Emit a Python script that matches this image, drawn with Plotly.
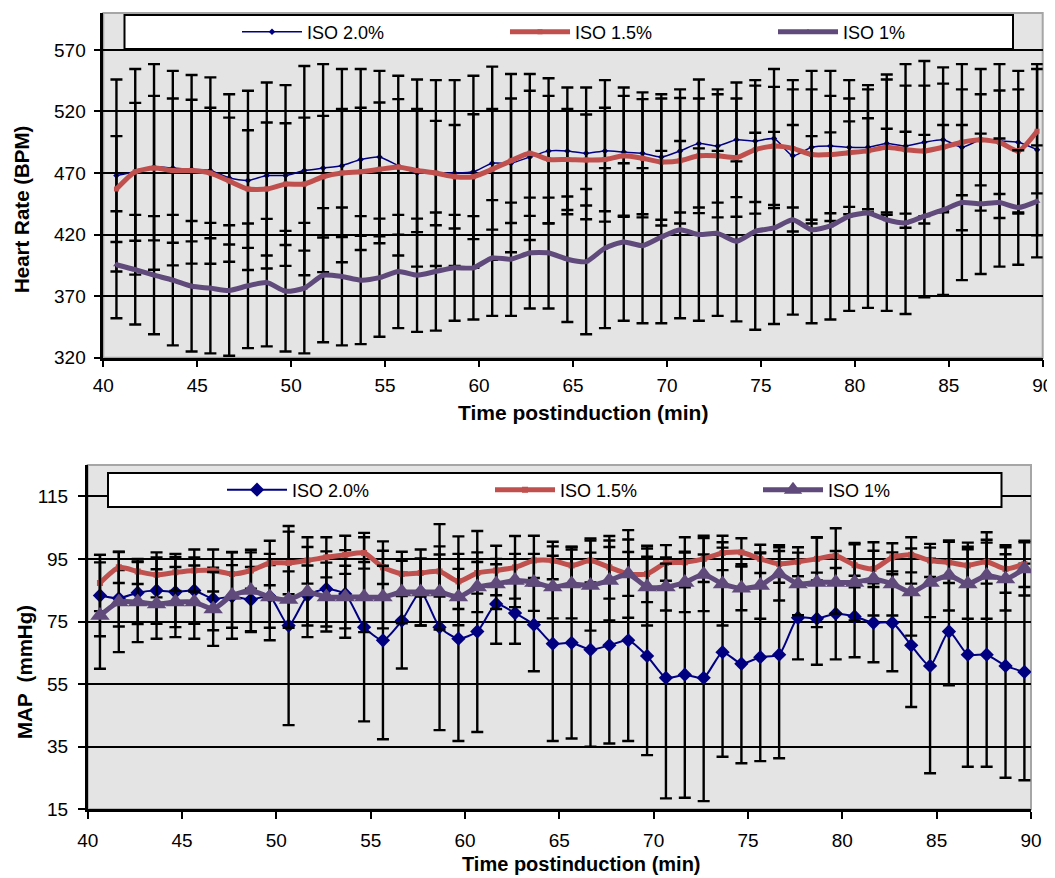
import plotly.graph_objects as go

# ---------------- data ----------------
time_hr = [40.7, 41.7, 42.7, 43.7, 44.7, 45.7, 46.7, 47.7, 48.7, 49.7,
           50.7, 51.7, 52.7, 53.7, 54.7, 55.7, 56.7, 57.7, 58.7, 59.7,
           60.7, 61.7, 62.7, 63.7, 64.7, 65.7, 66.7, 67.7, 68.7, 69.7,
           70.7, 71.7, 72.7, 73.7, 74.7, 75.7, 76.7, 77.7, 78.7, 79.7,
           80.7, 81.7, 82.7, 83.7, 84.7, 85.7, 86.7, 87.7, 88.7, 89.7]

hr_iso20 = [468, 471, 475, 474, 473, 472, 466, 464, 468, 468,
            472, 474, 476, 481, 483, 476, 470, 470, 470, 471,
            478, 478, 483, 488, 488, 486, 488, 487, 486, 483,
            488, 494, 492, 497, 496, 498, 484, 491, 492, 491,
            491, 494, 492, 495, 497, 491, 497, 496, 495, 489]
hr_iso20_sd = [78, 83.5, 83.5, 79, 76.6, 75.7, 68, 72.8, 75.6, 73.4,
               85, 84.5, 78.5, 73.5, 70, 73, 76, 75.5, 75.5, 78,
               78.4, 72.4, 67.4, 59, 51.5, 53.5, 57.5, 52.5, 49.5, 51,
               50, 52, 46, 46.6, 49.5, 56.5, 61.5, 62, 61, 54.5,
               50.4, 56, 66.5, 66, 58.8, 67.5, 57.5, 62.5, 58, 69.5]

hr_iso15 = [457, 471, 474, 472, 472, 470, 463.5, 457, 457, 461,
            461, 467, 470, 471, 473, 475, 472, 470, 467, 467,
            473, 480, 486, 481, 481, 480.6, 481, 484, 482, 479,
            480, 484, 484, 482.5, 489, 492, 490, 485, 485, 486.5,
            488, 491, 489, 488, 491, 495, 497, 495, 488, 504]
hr_iso15_sd = [43, 56, 58.7, 58.6, 57.5, 53, 51.5, 47.8, 54, 49.5,
               54, 49.4, 52, 52, 54.3, 55, 50, 42.4, 42, 50.7,
               49, 50.6, 50.8, 51.7, 41, 37, 42, 48.7, 48, 51.6,
               51, 46.6, 50, 48, 52, 48, 48, 53, 47.7, 44,
               50, 55, 52, 53, 51.6, 43, 37, 42, 50, 50.5]

hr_iso10 = [395.5, 391.5, 387, 383, 378, 376.5, 374.6, 378.4, 381, 374,
            376.5, 387, 386, 383, 385, 390, 387, 390, 393, 393,
            401, 400, 405, 405, 400, 398, 409, 414, 411, 418,
            424, 420, 421, 414.5, 422.7, 425.4, 432, 424, 427, 435,
            437.5, 432, 429.5, 435, 440, 446, 445, 446, 442, 447]
hr_iso10_sd = [43.5, 44.5, 48, 53, 53, 53, 53, 50.6, 51.8, 49,
               53, 54.5, 56, 52, 48, 46, 46, 48, 43, 42,
               47, 46, 45, 45, 51, 59, 65, 64, 63, 70,
               72, 70, 67, 65, 80, 78, 77, 76, 76, 77,
               77, 74, 74, 66, 69, 63, 57, 52, 46.5, 45.5]

time_map = [40.65, 41.65, 42.65, 43.65, 44.65, 45.65, 46.65, 47.65, 48.65, 49.65,
            50.65, 51.65, 52.65, 53.65, 54.65, 55.65, 56.65, 57.65, 58.65, 59.65,
            60.65, 61.65, 62.65, 63.65, 64.65, 65.65, 66.65, 67.65, 68.65, 69.65,
            70.65, 71.65, 72.65, 73.65, 74.65, 75.65, 76.65, 77.65, 78.65, 79.65,
            80.65, 81.65, 82.65, 83.65, 84.65, 85.65, 86.65, 87.65, 88.65, 89.65]

map_iso20 = [83.3, 82.4, 84.2, 84.9, 84.4, 84.9, 82.2, 83, 82, 83,
             73.7, 83.3, 85.4, 83.8, 73.2, 69, 75.3, 84.4, 73.2, 69.5,
             71.8, 80.6, 77.7, 74, 67.9, 68.2, 66, 67.4, 69, 64,
             57, 58, 57, 65.2, 61.5, 63.6, 64.4, 76.2, 75.9, 77.5,
             76.6, 74.6, 74.6, 67.4, 60.8, 71.8, 64.4, 64.4, 60.8, 58.9]
map_iso20_sd = [13, 9, 10, 10.6, 11.2, 10.6, 10, 10, 10.4, 10,
                31.8, 9.6, 12, 14, 30.1, 31.6, 15.3, 10.7, 32.9, 32.7,
                32.1, 12.7, 9.8, 14.9, 31.1, 30.6, 31, 31.4, 32.2, 31.7,
                38.5, 39.3, 39.4, 33.4, 31.8, 33.2, 33.1, 13.3, 14.7, 14.6,
                13, 12.6, 15.5, 19.7, 34.3, 17.2, 35.8, 35.8, 35.7, 34.6]

map_iso15 = [87.3, 92.3, 91, 89.9, 90.7, 91.3, 91.3, 90.2, 91.3, 93.7,
             93.7, 94.5, 95.5, 96.3, 96.9, 92.3, 90.2, 90.5, 91, 87.8,
             90.5, 91.3, 92.3, 94.5, 94.5, 92.9, 94.5, 92.3, 90.2, 90.2,
             93.7, 93.9, 95, 96.9, 97.1, 95, 93.4, 94.1, 95, 96,
             93, 91.8, 95.5, 96.3, 94.5, 93.9, 92.9, 94.1, 91.8, 93.4]
map_iso15_sd = [9, 5, 4, 7.2, 5.9, 6.7, 6.7, 7, 5.8, 7.1,
                10, 7.4, 6.4, 6.1, 5, 5.3, 7.1, 7.5, 8, 8.8,
                6.6, 7.9, 10, 7.9, 6, 6, 7, 10, 7, 9,
                5.7, 8, 7.4, 5.5, 4.5, 4.5, 6, 4.6, 6.9, 8.8,
                7.1, 5.8, 4.5, 5.6, 5.3, 6.6, 6, 7, 7.6, 7.4]

map_iso10 = [76.9, 81.2, 81.2, 80.6, 81.2, 81.2, 79, 83.3, 84.9, 82.8,
             82, 84.4, 82.8, 82.8, 82.8, 82.8, 84.4, 84.4, 84.4, 82.8,
             86, 87, 88.1, 87.5, 86, 87, 86.5, 88.1, 90.2, 86,
             86, 87.5, 90, 87, 85.6, 86.5, 90.2, 87, 87.5, 87.5,
             87.5, 88.6, 87, 84.4, 87.5, 89.7, 87, 89.7, 88.6, 91.8]
map_iso10_sd = [17, 16, 12.8, 11.1, 11.2, 11.7, 11.8, 13.8, 13, 13.8,
                9, 14.4, 11, 10, 11.2, 10, 10, 10.7, 12, 9,
                8, 8, 8.5, 9.1, 10, 11, 14.4, 12.8, 14, 12.3,
                7.5, 9.5, 11.7, 13.3, 7, 10.6, 8.5, 10, 14.3, 10,
                12.2, 11.7, 10.1, 13.9, 11.1, 11.2, 11.1, 13.8, 10.1, 8.5]

series_names = ["ISO 2.0%", "ISO 1.5%", "ISO 1%"]
x_ticks = [40, 45, 50, 55, 60, 65, 70, 75, 80, 85, 90]

# ---------------- style ----------------
BLUE = "#000080"
RED = "#C0504D"
PURPLE = "#604A7B"
GRAY_BG = "#E4E4E4"
FONT = "Liberation Sans, Arial, sans-serif"

# the page body has an 8px margin, so the figure is offset by 8px
OFF = 8
FW, FH = 1055 - OFF, 878 - OFF


def px(x):
    return (x - OFF) / FW


def py(y):
    return 1 - (y - OFF) / FH


top_x = [px(103.3), px(1042.7)]
top_y = [py(357.7), py(13)]
bot_x = [px(87.7), px(1031)]
bot_y = [py(809.3), py(465)]

fig = go.Figure()


def err(arr):
    return dict(type="data", array=arr, visible=True, color="black",
                thickness=2.4, width=6)


# top chart
fig.add_trace(go.Scatter(x=time_hr, y=hr_iso20, name=series_names[0], mode="lines+markers",
                         line=dict(color=BLUE, width=1.5, shape="spline", smoothing=0.6),
                         marker=dict(symbol="diamond", size=5, color=BLUE),
                         error_y=err(hr_iso20_sd), xaxis="x", yaxis="y", legend="legend"))
fig.add_trace(go.Scatter(x=time_hr, y=hr_iso15, name=series_names[1], mode="lines+markers",
                         line=dict(color=RED, width=5, shape="spline", smoothing=0.6),
                         marker=dict(symbol="square", size=5, color=RED),
                         error_y=err(hr_iso15_sd), xaxis="x", yaxis="y", legend="legend"))
fig.add_trace(go.Scatter(x=time_hr, y=hr_iso10, name=series_names[2], mode="lines+markers",
                         line=dict(color=PURPLE, width=5, shape="spline", smoothing=0.6),
                         marker=dict(symbol="triangle-up", size=6, color=PURPLE),
                         error_y=err(hr_iso10_sd), xaxis="x", yaxis="y", legend="legend"))

# bottom chart
fig.add_trace(go.Scatter(x=time_map, y=map_iso20, name=series_names[0], mode="lines+markers",
                         line=dict(color=BLUE, width=2, shape="spline", smoothing=0.6),
                         marker=dict(symbol="diamond", size=11, color=BLUE),
                         error_y=err(map_iso20_sd), xaxis="x2", yaxis="y2", legend="legend2"))
fig.add_trace(go.Scatter(x=time_map, y=map_iso15, name=series_names[1], mode="lines+markers",
                         line=dict(color=RED, width=5, shape="spline", smoothing=0.6),
                         marker=dict(symbol="square", size=6, color=RED),
                         error_y=err(map_iso15_sd), xaxis="x2", yaxis="y2", legend="legend2"))
fig.add_trace(go.Scatter(x=time_map, y=map_iso10, name=series_names[2], mode="lines+markers",
                         line=dict(color=PURPLE, width=5, shape="spline", smoothing=0.6),
                         marker=dict(symbol="triangle-up", size=17, color=PURPLE),
                         error_y=err(map_iso10_sd), xaxis="x2", yaxis="y2", legend="legend2"))

tickfont = dict(family=FONT, size=19, color="black")
common_x = dict(range=[40, 90], tickvals=x_ticks, showline=True, linecolor="black", linewidth=2.5,
                ticks="outside", ticklen=7, tickwidth=2, tickcolor="black", showgrid=False,
                zeroline=False, tickfont=tickfont, automargin=False)
common_y = dict(showline=True, linecolor="black", linewidth=2.5, ticks="outside", ticklen=7,
                tickwidth=2, tickcolor="black", showgrid=True, gridcolor="black", gridwidth=2,
                zeroline=False, tickfont=tickfont, automargin=False)

legend_common = dict(orientation="h", bgcolor="rgba(0,0,0,0)", borderwidth=0,
                     font=dict(family=FONT, size=18, color="black"),
                     itemwidth=60, entrywidthmode="pixels", entrywidth=193,
                     xanchor="left", yanchor="middle", tracegroupgap=0, itemclick=False)

fig.update_layout(
    width=FW, height=FH, margin=dict(l=0, r=0, t=0, b=0, autoexpand=False),
    paper_bgcolor="white", plot_bgcolor=GRAY_BG, showlegend=True,
    font=dict(family=FONT, size=17, color="black"),
    xaxis=dict(domain=top_x, anchor="y", ticklabelstandoff=2, **common_x),
    yaxis=dict(domain=top_y, anchor="x", range=[320, 600], tick0=320, dtick=50,
               ticklabelstandoff=4, **common_y),
    xaxis2=dict(domain=bot_x, anchor="y2", ticklabelstandoff=5, **common_x),
    yaxis2=dict(domain=bot_y, anchor="x2", range=[15, 125], tick0=15, dtick=20,
                ticklabelstandoff=6, **common_y),
    legend=dict(x=px(237), y=py(32), **legend_common),
    legend2=dict(x=px(222), y=py(490), **legend_common),
)

# plot-area frames (light gray) and legend boxes
for xr, yr in (("x domain", "y domain"), ("x2 domain", "y2 domain")):
    fig.add_shape(type="rect", xref=xr, yref=yr, x0=0, x1=1, y0=0, y1=1,
                  line=dict(color="#A6A6A6", width=2), fillcolor="rgba(0,0,0,0)", layer="below")

fig.add_shape(type="rect", xref="paper", yref="paper", x0=px(124.5), x1=px(1013),
              y0=py(49), y1=py(15), line=dict(color="black", width=2),
              fillcolor="white", layer="above")
fig.add_shape(type="rect", xref="paper", yref="paper", x0=px(108), x1=px(1001.5),
              y0=py(507), y1=py(473), line=dict(color="black", width=2),
              fillcolor="white", layer="above")

ytitle_font = dict(family=FONT, size=20.5, color="black")
xtitle_font = dict(family=FONT, size=21, color="black")
ann = dict(xref="paper", yref="paper", showarrow=False, xanchor="center", yanchor="middle")
fig.add_annotation(text="<b>Heart Rate (BPM)</b>", x=px(22), y=py(210), textangle=-90,
                   font=ytitle_font, **ann)
fig.add_annotation(text="<b>Time postinduction (min)</b>", x=px(583), y=py(413),
                   font=xtitle_font, **ann)
fig.add_annotation(text="<b>MAP  (mmHg)</b>", x=px(24), y=py(672), textangle=-90,
                   font=ytitle_font, **ann)
fig.add_annotation(text="<b>Time postinduction (min)</b>", x=px(581), y=py(864),
                   font=dict(family=FONT, size=20, color="black"), **ann)

fig.write_html("out.html")
